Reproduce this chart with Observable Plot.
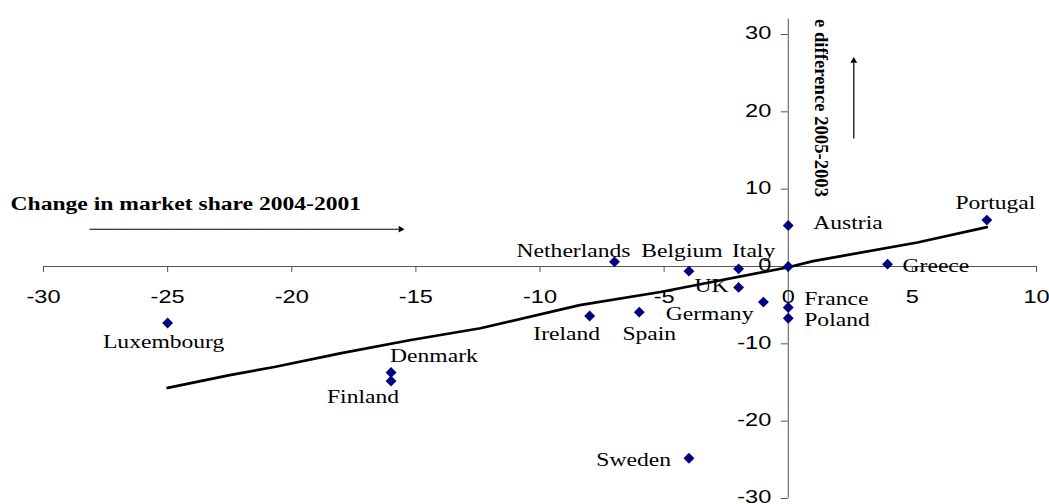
<!DOCTYPE html>
<html><head><meta charset="utf-8">
<script src="https://cdn.jsdelivr.net/npm/d3@7"></script>
<script src="https://cdn.jsdelivr.net/npm/@observablehq/plot@0.6"></script>
<style>html,body{margin:0;padding:0;background:#fff}#chart svg{display:block}</style>
</head><body><div id="chart"></div>
<script>
// ---- data ----
const countries = ["Luxembourg","Denmark","Finland","Sweden","Ireland","Spain","Netherlands","Belgium","Italy","UK","Germany","France","Poland","Austria","","Greece","Portugal"];
const marketShareChange = [-25,-16,-16,-4,-8,-6,-7,-4,-2,-2,-1,0,0,0,0,4,8];
const valueDifference   = [-7.3,-13.7,-14.8,-24.8,-6.4,-5.9,0.6,-0.6,-0.3,-2.7,-4.6,-5.3,-6.7,5.3,0,0.3,6.0];
const trendX = [-25,-22.5,-20.7,-18,-15.2,-12.4,-8.4,-5.15,0,1,5.2,8];
const trendY = [-15.7,-14.05,-13.0,-11.2,-9.5,-7.98,-5.0,-3.3,-0.1,0.7,3.1,5.1];
const xTicks = [-30,-25,-20,-15,-10,-5,0,5,10];
const yTicks = [-30,-20,-10,0,10,20,30];
const xTitle = "Change in market share 2004-2001";
const yTitle = "e difference 2005-2003";

// ---- annotation anchors (data units) ----
const xTitlePos = {x:-31.33, y:8.06};
const yTitlePos = {x:1.34, y:32.0};
const arrowLines = [{x1:-28.15,y1:4.82,x2:-15.69,y2:4.82},{x1:2.64,y1:16.55,x2:2.64,y2:26.35}];
const arrowHeads = [{x:-15.615,y:4.82,rot:90},{x:2.64,y:26.6,rot:0}];

// ---- label placement (styles) ----
const place = {
  Luxembourg:{a:"middle",dx:-4,dy:19}, Denmark:{a:"start",dx:-1,dy:-16}, Finland:{a:"end",dx:8,dy:16},
  Sweden:{a:"end",dx:-18,dy:2}, Ireland:{a:"middle",dx:-23,dy:18}, Spain:{a:"middle",dx:10,dy:22},
  Netherlands:{a:"end",dx:16,dy:-11}, Belgium:{a:"middle",dx:-7,dy:-20}, Italy:{a:"middle",dx:15,dy:-18},
  UK:{a:"end",dx:-10,dy:-1}, Germany:{a:"end",dx:-10,dy:12}, France:{a:"start",dx:16,dy:-8},
  Poland:{a:"start",dx:16,dy:2}, Austria:{a:"start",dx:25,dy:-2}, Greece:{a:"start",dx:15,dy:2},
  Portugal:{a:"middle",dx:8.5,dy:-17}
};

const points = countries.map((c,i)=>({country:c, x:marketShareChange[i], y:valueDifference[i]}));
const trend = trendX.map((x,i)=>({x, y:trendY[i]}));
const serif = "'Liberation Serif','Times New Roman',serif";
const sans = "'Liberation Sans',Arial,sans-serif";
const axisColor = "#555555";

const labelMarks = points.filter(d=>d.country).map(d=>{
  const p = place[d.country];
  return Plot.text([d], {x:"x", y:"y", text:"country", textAnchor:p.a, dx:p.dx, dy:p.dy,
    fontFamily:serif, fontSize:18, fill:"black"});
});

const chart = Plot.plot({
  width:1049, height:504,
  marginLeft:43, marginRight:13, marginTop:34, marginBottom:6,
  x:{domain:[-30,10], axis:null},
  y:{domain:[-30,30], axis:null},
  style:{background:"white", overflow:"visible"},
  marks:[
    Plot.ruleY([0], {x1:-30, x2:10, stroke:axisColor, strokeWidth:1}),
    Plot.ruleX([0], {y1:-30, y2:32, stroke:axisColor, strokeWidth:1}),
    Plot.ruleX(xTicks, {x:d=>d, y1:0, y2:-0.78, stroke:axisColor, strokeWidth:1}),
    Plot.ruleY(yTicks, {y:d=>d, x1:-0.28, x2:0, stroke:axisColor, strokeWidth:1}),
    Plot.text(xTicks, {x:d=>d, y:0, text:d=>String(d), dy:31, fontFamily:sans, fontSize:18, fill:"black"}),
    Plot.text(yTicks, {x:0, y:d=>d, text:d=>String(d), textAnchor:"end", dx:-17, dy:-1, fontFamily:sans, fontSize:18, fill:"black"}),
    Plot.line(trend, {x:"x", y:"y", stroke:"black", strokeWidth:2.7}),
    Plot.dot(points, {x:"x", y:"y", symbol:"diamond2", r:4.9, fill:"#000080", stroke:"none"}),
    ...labelMarks,
    Plot.text([xTitlePos], {x:"x", y:"y", text:[xTitle], textAnchor:"start", fontFamily:serif, fontWeight:"bold", fontSize:18, fill:"black"}),
    Plot.text([yTitlePos], {x:"x", y:"y", text:[yTitle], textAnchor:"start", rotate:90, fontFamily:serif, fontWeight:"bold", fontSize:19, fill:"black"}),
    Plot.link(arrowLines, {x1:"x1", y1:"y1", x2:"x2", y2:"y2", stroke:"black", strokeWidth:1.2}),
    Plot.dot(arrowHeads, {x:"x", y:"y", symbol:"triangle2", r:3.2, fill:"black", rotate:"rot"})
  ]
});
document.getElementById("chart").append(chart);

// horizontal stretch of the text, as in the reference
const STRETCH = 1.31;
chart.querySelectorAll("text").forEach(t=>{
  const tr = t.getAttribute("transform") || "";
  if (tr.includes("rotate")) {
    t.setAttribute("textLength", 178);
    t.setAttribute("lengthAdjust", "spacingAndGlyphs");
    return;
  }
  const len = t.getComputedTextLength();
  t.setAttribute("textLength", len*STRETCH);
  t.setAttribute("lengthAdjust", "spacingAndGlyphs");
});
</script></body></html>
